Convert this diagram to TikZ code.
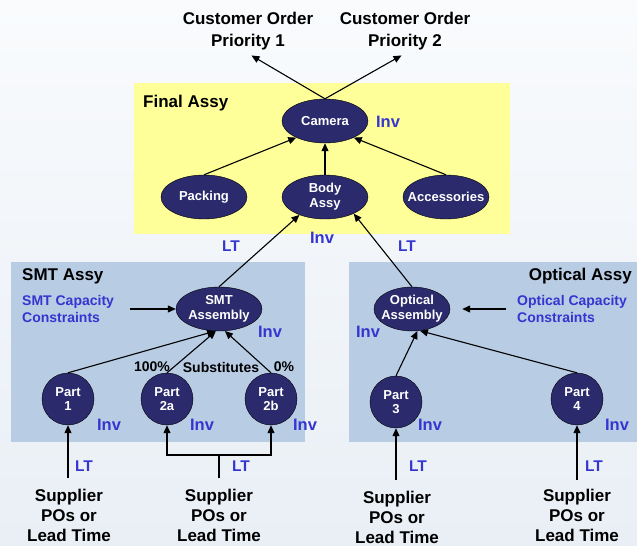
\documentclass[tikz,border=0pt]{standalone}
\usepackage{fontspec}
\setmainfont{Liberation Sans}
\usetikzlibrary{arrows.meta, shapes.geometric}
\definecolor{navy}{HTML}{2A2A6C}
\definecolor{invblue}{HTML}{3535CF}
\definecolor{assyyellow}{HTML}{FFFF99}
\definecolor{assyblue}{HTML}{B8CCE4}
\tikzset{>={Triangle[length=8pt,width=7pt]},
	flow/.style={->, line width=1.1pt},
	item/.style={ellipse, draw=black, fill=navy, text=white, align=center, font=\fontsize{13}{15}\selectfont\bfseries, inner xsep=-10pt, inner ysep=-5pt, minimum width=86pt, minimum height=44pt},
	part/.style={circle, draw=black, fill=navy, text=white, align=center, font=\fontsize{13}{14}\selectfont\bfseries, inner sep=0pt, minimum size=52pt},
	big/.style={align=center, font=\fontsize{17}{20}\selectfont\bfseries},
	capnote/.style={align=left, inner sep=0pt, text=invblue, font=\fontsize{14}{17}\selectfont\bfseries},
	inv/.style={text=invblue, font=\fontsize{16.5}{18}\selectfont\bfseries},
	lt/.style={text=invblue, font=\fontsize{15.5}{18}\selectfont\bfseries},
	pct/.style={font=\fontsize{14}{16}\selectfont\bfseries}
}

\begin{document}
\begin{tikzpicture}[x=1pt, y=-1pt]
	\fill[top color={rgb,255:red,249;green,251;blue,253}, bottom color={rgb,255:red,233;green,239;blue,245}] (0,0) rectangle (637,546);
	\useasboundingbox (0,0) rectangle (637,546);
	\fill[assyyellow] (134,83) rectangle (510,234);
	\fill[assyblue] (11,262) rectangle (305,442);
	\fill[assyblue] (349,262) rectangle (637,442);
	\node[big, anchor=west, inner sep=0pt] (final) at (143,103) {Final Assy};
	\node[big, anchor=west, inner sep=0pt] (smtassy) at (22,276) {SMT Assy};
	\node[big, anchor=east, inner sep=0pt] (optassy) at (632,276) {Optical Assy};
	\node[big] (cust1) at (248,31) {Customer Order\\[2pt]Priority 1};
	\node[big] (cust2) at (405,31) {Customer Order\\[2pt]Priority 2};
	\node[item] (cam) at (325,121) {Camera};
	\node[item] (pack) at (204,197) {Packing};
	\node[item] (body) at (325,197) {Body\\Assy};
	\node[item] (acc) at (446,197) {Accessories};
	\node[item] (smt) at (219,309) {SMT\\Assembly};
	\node[item, minimum width=76pt] (opt) at (412,309) {Optical\\Assembly};
	\node[part] (p1) at (68,399) {Part\\1};
	\node[part] (p2a) at (167,399) {Part\\2a};
	\node[part] (p2b) at (271,399) {Part\\2b};
	\node[part] (p3) at (396,402) {Part\\3};
	\node[part] (p4) at (577,399) {Part\\4};
	\node[capnote, anchor=west] (smtcap) at (22,309) {SMT Capacity\\Constraints};
	\node[capnote, anchor=west] (optcap) at (517,309) {Optical Capacity\\Constraints};
	\node[pct] (full) at (152,367) {100\%};
	\node[pct] (subst) at (221,367) {Substitutes};
	\node[pct] (none) at (284,367) {0\%};
	\foreach \x/\y [count=\i] in {388/122, 322/238, 270/332, 368/332, 109/425, 202/425, 305/425, 430/425, 617/425}
	\node[inv] (inv\i) at (\x,\y) {Inv};
	\foreach \x/\y [count=\i] in {231/246, 407/246, 84/466, 241/466, 418/466, 594/466}
	\node[lt] (lt\i) at (\x,\y) {LT};
	\foreach \x/\y [count=\i] in {69/515, 219/515, 397/517, 577/515}
	\node[big] (sup\i) at (\x,\y) {Supplier\\POs or\\Lead Time};
	\draw[flow, shorten >=4pt] (cam.north) -- (cust1.south);
	\draw[flow, shorten >=4pt] (cam.north) -- (cust2.south);
	\draw[flow] (pack.north) -- (cam.210);
	\draw[flow] (body) -- (cam);
	\draw[flow] (acc.north) -- (cam.330);
	\draw[flow] (smt.north) -- (body.215);
	\draw[flow] (opt.north) -- (body.330);
	\draw[flow] (p1.north) -- (smt.260);
	\draw[flow] (p2a.north) -- (smt.262);
	\draw[flow] (p2b.north) -- (smt.285);
	\draw[flow] (p3.north) -- (opt.284);
	\draw[flow] (p4.north) -- (opt.290);
	\coordinate (smtin) at (130,309);
	\coordinate (optin) at (506,309);
	\draw[flow] (smtin) -- (smt);
	\draw[flow, shorten >=12pt] (optin) -- (opt.east);
	\coordinate (b1) at (68,478);
	\coordinate (b2) at (219,478);
	\coordinate (fork) at (219,455);
	\coordinate (b3) at (396,480);
	\coordinate (b4) at (577,480);
	\draw[flow] (b1) -- (p1);
	\draw[line width=1.1pt] (b2) -- (fork);
	\draw[flow] (fork) -| (p2a);
	\draw[flow] (fork) -| (p2b);
	\draw[flow] (b3) -- (p3);
	\draw[flow] (b4) -- (p4);
\end{tikzpicture}
\end{document}
